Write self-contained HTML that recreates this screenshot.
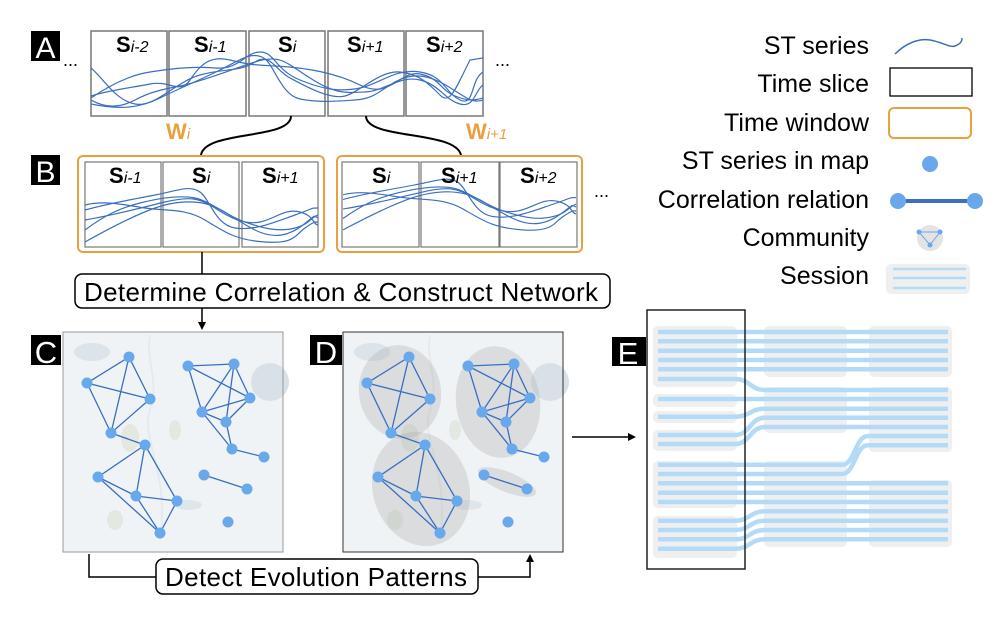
<!DOCTYPE html>
<html><head><meta charset="utf-8"><style>
html,body{margin:0;padding:0;background:#fff;}
svg{display:block;font-family:"Liberation Sans",Arial,sans-serif;}
</style></head><body>
<svg width="1005" height="624" viewBox="0 0 1005 624" xmlns="http://www.w3.org/2000/svg">
<defs>
<clipPath id="clA"><rect x="91" y="31" width="392" height="85"/></clipPath>
<g id="curvesA" fill="none" stroke="#3a6fc0" stroke-width="1.2">
<path d="M91,68 C105,80 115,100 135,104 S175,82 200,75 S240,72 255,62 S275,70 290,78 S330,100 345,96 S380,70 400,72 S430,85 440,95 S455,90 470,60 L483,58"/>
<path d="M91,98 C110,85 130,75 150,72 S190,66 215,68 S245,52 260,52 S275,70 300,80 S340,92 360,88 S395,68 420,72 S445,93 460,100 S470,80 483,72"/>
<path d="M91,100 C105,108 120,108 135,100 S160,90 180,86 S230,70 255,62 S285,62 310,78 S345,93 365,92 S400,75 420,80 S445,100 460,104 S475,90 483,85"/>
<path d="M91,96 C110,90 130,88 150,84 S180,95 190,80 S210,55 230,60 S255,65 275,66 S330,70 360,85 S400,70 420,74 S440,90 455,96 S475,100 483,98"/>
<path d="M91,104 C120,110 140,108 160,98 S200,80 220,70 S250,52 262,57 S280,95 300,99 S340,101 355,100 S375,95 390,85 S420,72 440,82 S470,105 483,100"/>
</g>
<g id="curvesB" fill="none" stroke="#3a6fc0" stroke-width="1.2">
<path d="M0,10 C25,3 45,0 70,-5 S105,-15 115,-8 S130,25 150,28 S190,22 210,15 S225,8 233,8"/>
<path d="M0,30 C20,15 35,8 55,3 S95,-5 110,-2 S140,15 160,22 S195,32 210,28 S225,18 233,15"/>
<path d="M0,20 C30,15 55,8 80,2 S115,-2 130,8 S160,25 175,22 S200,8 215,12 S228,25 233,25"/>
<path d="M0,42 C25,28 50,15 70,8 S110,0 125,5 S150,20 170,30 S205,35 218,25 S228,15 233,18"/>
<path d="M0,5 C20,0 40,5 60,8 S100,8 120,20 S150,40 180,42 S210,35 220,28 S230,22 233,22"/>
</g>
<g id="net">
<g stroke="#3a6fc0" stroke-width="1.3">
<line x1="129" y1="357" x2="87" y2="383"/><line x1="129" y1="357" x2="150" y2="399"/><line x1="129" y1="357" x2="111" y2="433"/>
<line x1="87" y1="383" x2="150" y2="399"/><line x1="87" y1="383" x2="111" y2="433"/><line x1="111" y1="433" x2="150" y2="399"/>
<line x1="111" y1="433" x2="145" y2="445"/>
<line x1="145" y1="445" x2="98" y2="477"/><line x1="145" y1="445" x2="136" y2="496"/><line x1="145" y1="445" x2="177" y2="501"/>
<line x1="98" y1="477" x2="136" y2="496"/><line x1="98" y1="477" x2="160" y2="533"/><line x1="136" y1="496" x2="177" y2="501"/>
<line x1="136" y1="496" x2="160" y2="533"/><line x1="177" y1="501" x2="160" y2="533"/>
<line x1="188" y1="366" x2="234" y2="364"/><line x1="188" y1="366" x2="250" y2="398"/><line x1="188" y1="366" x2="202" y2="412"/>
<line x1="234" y1="364" x2="202" y2="412"/><line x1="234" y1="364" x2="226" y2="422"/><line x1="234" y1="364" x2="250" y2="398"/>
<line x1="202" y1="412" x2="250" y2="398"/><line x1="202" y1="412" x2="226" y2="422"/><line x1="226" y1="422" x2="250" y2="398"/>
<line x1="202" y1="412" x2="232" y2="449"/><line x1="226" y1="422" x2="232" y2="449"/><line x1="232" y1="449" x2="264" y2="457"/>
<line x1="204" y1="475" x2="247" y2="489"/>
</g>
<g fill="#6aa8ec">
<circle cx="129" cy="357" r="5.5"/><circle cx="87" cy="383" r="5.5"/><circle cx="150" cy="399" r="5.5"/><circle cx="111" cy="433" r="5.5"/>
<circle cx="145" cy="445" r="5.5"/><circle cx="98" cy="477" r="5.5"/><circle cx="136" cy="496" r="5.5"/><circle cx="177" cy="501" r="5.5"/><circle cx="160" cy="533" r="5.5"/>
<circle cx="188" cy="366" r="5.5"/><circle cx="234" cy="364" r="5.5"/><circle cx="250" cy="398" r="5.5"/><circle cx="202" cy="412" r="5.5"/>
<circle cx="226" cy="422" r="5.5"/><circle cx="232" cy="449" r="5.5"/><circle cx="264" cy="457" r="5.5"/>
<circle cx="204" cy="475" r="5.5"/><circle cx="247" cy="489" r="5.5"/><circle cx="228" cy="522" r="5.5"/>
</g>
</g>
<g id="mapbg">
<rect x="63" y="332" width="220" height="220" fill="#eff3f5"/>
<ellipse cx="92" cy="352" rx="18" ry="9" fill="#dce4e9"/>
<circle cx="270" cy="382" r="19" fill="#d8e1e7"/>
<ellipse cx="130" cy="438" rx="9" ry="14" fill="#e3e9e1"/>
<ellipse cx="175" cy="430" rx="6" ry="10" fill="#e3e9e1"/>
<ellipse cx="115" cy="520" rx="8" ry="10" fill="#e3e9e1"/>
<ellipse cx="188" cy="505" rx="14" ry="5" fill="#dfe6eb"/>
<path d="M150,335 C145,360 160,380 150,410 S170,470 160,540" stroke="#e4eaee" stroke-width="2" fill="none"/>
</g>
</defs>

<!-- A -->
<rect x="31" y="31" width="29" height="30" fill="#000"/>
<text x="45.5" y="58" font-size="30" fill="#fff" text-anchor="middle">A</text>
<text x="63" y="66" font-size="18">...</text>
<g fill="#fff" stroke="#777" stroke-width="1.5">
<rect x="91" y="31" width="76" height="85"/><rect x="169" y="31" width="77" height="85"/><rect x="249" y="31" width="76" height="85"/><rect x="328" y="31" width="76" height="85"/><rect x="406" y="31" width="77" height="85"/>
</g>
<use href="#curvesA" clip-path="url(#clA)"/>
<g font-size="22" font-weight="bold">
<text x="116" y="52">S<tspan font-size="16" font-weight="normal" font-style="italic">i-2</tspan></text>
<text x="194" y="52">S<tspan font-size="16" font-weight="normal" font-style="italic">i-1</tspan></text>
<text x="278" y="52">S<tspan font-size="16" font-weight="normal" font-style="italic">i</tspan></text>
<text x="347" y="52">S<tspan font-size="16" font-weight="normal" font-style="italic">i+1</tspan></text>
<text x="426" y="52">S<tspan font-size="16" font-weight="normal" font-style="italic">i+2</tspan></text>
</g>
<text x="495" y="66" font-size="18">...</text>

<path d="M291,116 C291,140 205,130 201,155" fill="none" stroke="#000" stroke-width="2"/>
<path d="M366,116 C366,140 455,130 461,155" fill="none" stroke="#000" stroke-width="2"/>
<text x="166" y="139" font-size="22" font-weight="bold" fill="#e8a040">W<tspan font-size="15" font-weight="normal" font-style="italic">i</tspan></text>
<text x="466" y="139" font-size="22" font-weight="bold" fill="#e8a040">W<tspan font-size="15" font-weight="normal" font-style="italic">i+1</tspan></text>

<!-- B -->
<rect x="31" y="155" width="29" height="30" fill="#000"/>
<text x="45.5" y="182" font-size="30" fill="#fff" text-anchor="middle">B</text>
<rect x="78" y="156" width="246" height="96" rx="5" fill="#fff" stroke="#e8a040" stroke-width="2"/>
<rect x="337" y="156" width="245" height="96" rx="5" fill="#fff" stroke="#e8a040" stroke-width="2"/>
<g fill="none" stroke="#777" stroke-width="1.2">
<rect x="85" y="162" width="76" height="85"/><rect x="163" y="162" width="76" height="85"/><rect x="242" y="162" width="76" height="85"/>
<rect x="342" y="162" width="77" height="85"/><rect x="421" y="162" width="78" height="85"/><rect x="500" y="162" width="77" height="85"/>
</g>
<use href="#curvesB" transform="translate(85,200)"/>
<use href="#curvesB" transform="translate(343,190) scale(1,0.95)"/>
<g font-size="22" font-weight="bold">
<text x="109" y="183">S<tspan font-size="16" font-weight="normal" font-style="italic">i-1</tspan></text>
<text x="192" y="183">S<tspan font-size="16" font-weight="normal" font-style="italic">i</tspan></text>
<text x="262" y="183">S<tspan font-size="16" font-weight="normal" font-style="italic">i+1</tspan></text>
<text x="372" y="183">S<tspan font-size="16" font-weight="normal" font-style="italic">i</tspan></text>
<text x="441" y="183">S<tspan font-size="16" font-weight="normal" font-style="italic">i+1</tspan></text>
<text x="520" y="183">S<tspan font-size="16" font-weight="normal" font-style="italic">i+2</tspan></text>
</g>
<text x="594" y="197" font-size="18">...</text>

<line x1="202" y1="252" x2="202" y2="274" stroke="#000" stroke-width="1.5"/>
<rect x="75" y="274" width="535" height="34" rx="7" fill="#fff" stroke="#000" stroke-width="1.5"/>
<text x="341" y="301" font-size="26" text-anchor="middle" textLength="514">Determine Correlation &amp; Construct Network</text>
<line x1="202" y1="308" x2="202" y2="324" stroke="#000" stroke-width="1.5"/>
<path d="M198,322 L206,322 L202,330 Z" fill="#000"/>

<!-- C -->
<use href="#mapbg"/>
<rect x="63" y="332" width="220" height="220" fill="none" stroke="#999" stroke-width="1"/>
<rect x="31" y="335" width="30" height="30" fill="#000"/>
<text x="46" y="363" font-size="31" fill="#fff" text-anchor="middle">C</text>
<use href="#net"/>

<!-- D -->
<use href="#mapbg" transform="translate(280,0)"/>
<g fill="#a8a8a8" fill-opacity="0.3">
<ellipse cx="400" cy="392" rx="41" ry="47" transform="rotate(-10 400 392)"/>
<ellipse cx="498" cy="402" rx="42" ry="56" transform="rotate(-8 498 402)"/>
<ellipse cx="421" cy="489" rx="48" ry="58" transform="rotate(-18 421 489)"/>
<ellipse cx="507" cy="482" rx="31" ry="10" transform="rotate(22 507 482)"/>
</g>
<use href="#net" transform="translate(280,0)"/>
<rect x="343" y="332" width="220" height="220" fill="none" stroke="#333" stroke-width="1"/>
<rect x="310" y="335" width="32" height="30" fill="#000"/>
<text x="326" y="363" font-size="31" fill="#fff" text-anchor="middle">D</text>

<!-- bottom connector -->
<path d="M89,554 L89,577 L156,577" fill="none" stroke="#000" stroke-width="1.5"/>
<path d="M478,577 L530,577 L530,560" fill="none" stroke="#000" stroke-width="1.5"/>
<path d="M526,562 L534,562 L530,554 Z" fill="#000"/>
<rect x="156" y="559" width="322" height="35" rx="7" fill="#fff" stroke="#000" stroke-width="1.5"/>
<text x="316" y="586" font-size="26" text-anchor="middle" textLength="302">Detect Evolution Patterns</text>

<!-- arrow to E -->
<line x1="572" y1="437" x2="630" y2="437" stroke="#000" stroke-width="1.5"/>
<path d="M628,433 L636,437 L628,441 Z" fill="#000"/>

<!-- E -->
<g fill="#efefef">
<rect x="653" y="326" width="84" height="61" rx="5"/><rect x="653" y="394" width="84" height="13" rx="5"/><rect x="653" y="411" width="84" height="12" rx="5"/>
<rect x="653" y="430" width="84" height="21" rx="5"/><rect x="653" y="461" width="84" height="47" rx="5"/><rect x="653" y="516" width="84" height="42" rx="5"/>
<rect x="764" y="326" width="83" height="51" rx="5"/><rect x="764" y="387" width="83" height="46" rx="5"/><rect x="764" y="461" width="83" height="86" rx="5"/>
<rect x="869" y="326" width="83" height="51" rx="5"/><rect x="869" y="387" width="83" height="65" rx="5"/><rect x="869" y="480" width="83" height="67" rx="5"/>
</g>
<g fill="none" stroke="#b3dbf7" stroke-width="4.5">
<path d="M658,332 H948"/><path d="M658,341.3 H948"/><path d="M658,350.7 H948"/><path d="M658,360 H948"/><path d="M658,369.3 H948"/>
<path d="M658,379 H735 C750,379 750,390 765,390 H948"/>
<path d="M658,399 H948"/>
<path d="M658,416.7 H735 C750,416.7 750,408.7 765,408.7 H948"/>
<path d="M658,435 H735 C750,435 750,417.7 765,417.7 H948"/>
<path d="M658,444 H735 C750,444 750,427 765,427 H948"/>
<path d="M658,464.7 H842 C855,464.7 855,436 868,436 H948"/>
<path d="M658,474 H842 C855,474 855,445.3 868,445.3 H948"/>
<path d="M658,483.3 H948"/><path d="M658,492.7 H948"/><path d="M658,502 H948"/>
<path d="M658,520.7 H735 C750,520.7 750,511.3 765,511.3 H948"/>
<path d="M658,530 H735 C750,530 750,520.7 765,520.7 H948"/>
<path d="M658,539.3 H735 C750,539.3 750,530 765,530 H948"/>
<path d="M658,548.7 H735 C750,548.7 750,539.3 765,539.3 H948"/>
</g>
<rect x="647" y="310" width="98" height="259" fill="none" stroke="#222" stroke-width="1.5"/>
<rect x="612" y="337" width="34" height="29" fill="#000"/>
<text x="628" y="364" font-size="31" fill="#fff" text-anchor="middle">E</text>

<!-- Legend -->
<g font-size="25" text-anchor="end">
<text x="869" y="54">ST series</text>
<text x="869" y="92">Time slice</text>
<text x="869" y="131">Time window</text>
<text x="869" y="169">ST series in map</text>
<text x="869" y="208">Correlation relation</text>
<text x="869" y="246">Community</text>
<text x="869" y="284">Session</text>
</g>
<path d="M895,54 C905,44 918,38 930,40 S950,48 955,46 S962,42 962,38" fill="none" stroke="#3a6fc0" stroke-width="1.5"/>
<rect x="890" y="68" width="82" height="28" fill="#fff" stroke="#000" stroke-width="1.3"/>
<rect x="889" y="108" width="82" height="30" rx="5" fill="#fff" stroke="#e8a040" stroke-width="2"/>
<circle cx="930" cy="164" r="8" fill="#6aa8ec"/>
<line x1="905" y1="201" x2="968" y2="201" stroke="#3b6fbf" stroke-width="4"/>
<circle cx="898" cy="201" r="8" fill="#6aa8ec"/><circle cx="975" cy="201" r="8" fill="#6aa8ec"/>
<circle cx="930" cy="238" r="13" fill="#e3e3e3"/>
<path d="M919,232 H940 L930,245 Z" fill="none" stroke="#6aa8ec" stroke-width="1"/>
<circle cx="919" cy="232" r="2.5" fill="#6aa8ec"/><circle cx="940" cy="232" r="2.5" fill="#6aa8ec"/><circle cx="930" cy="245" r="2.5" fill="#6aa8ec"/>
<rect x="886" y="264" width="84" height="30" rx="5" fill="#efefef"/>
<g stroke="#b3dbf7" stroke-width="2.5"><line x1="893" y1="269" x2="966" y2="269"/><line x1="893" y1="278" x2="966" y2="278"/><line x1="893" y1="288" x2="966" y2="288"/></g>
</svg>
</body></html>
